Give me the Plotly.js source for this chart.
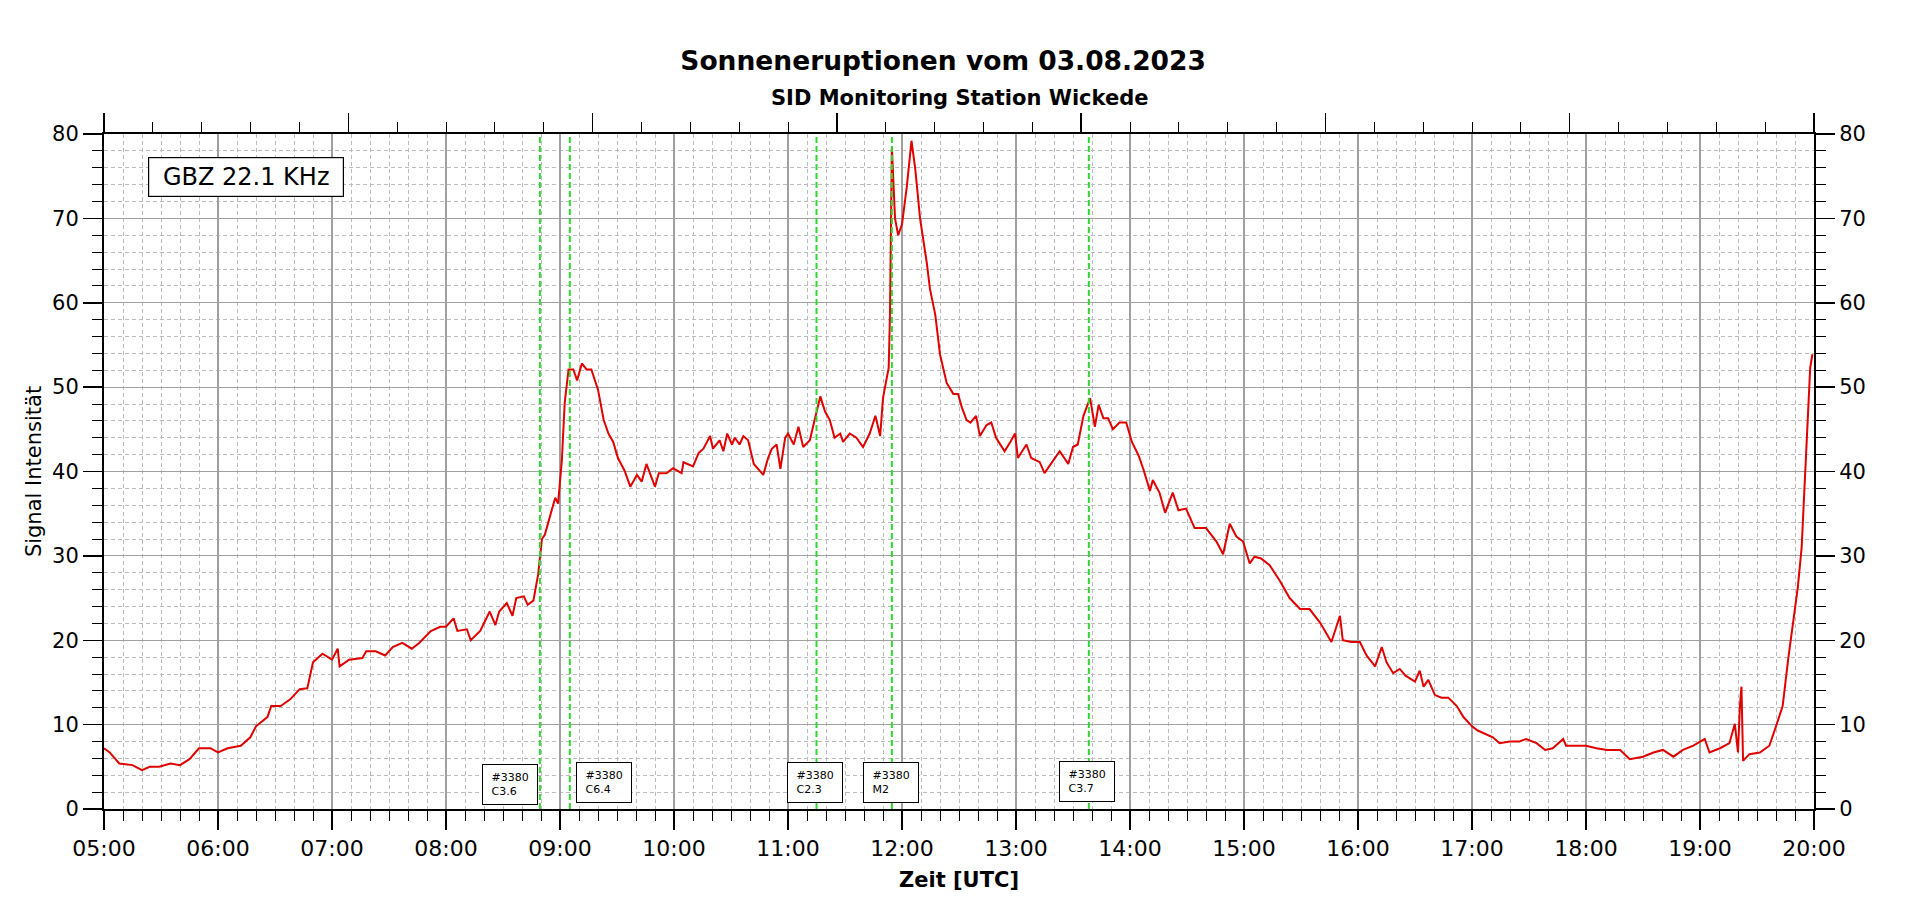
<!DOCTYPE html>
<html>
<head>
<meta charset="utf-8">
<script src="https://cdn.plot.ly/plotly-3.0.1.min.js"></script>
<style>
  html, body { margin: 0; padding: 0; background: #ffffff; }
  #chart { width: 1920px; height: 904px; }
</style>
</head>
<body>
<div id="chart"></div>
<script>
// ---- Data ----
const chartDate = "2023-08-03";

const times = [
  "05:00","05:03","05:08","05:15","05:20","05:24","05:29","05:35","05:40","05:45",
  "05:50","05:56","06:00","06:05","06:12","06:17","06:20","06:26","06:28","06:33",
  "06:38","06:43","06:47","06:50","06:55","07:00","07:03","07:04","07:09","07:16",
  "07:18","07:23","07:28","07:32","07:37","07:42","07:46","07:52","07:57","08:00",
  "08:04","08:06","08:11","08:13","08:18","08:23","08:26","08:28","08:32","08:35",
  "08:37","08:41","08:43","08:46","08:48:30","08:50:30","08:52","08:54","08:55:30","08:57:30",
  "08:59","09:01","09:02:30","09:04:30","09:07","09:09","09:11:30","09:14","09:16:30","09:18:30",
  "09:20","09:23","09:25:30","09:28","09:30:30","09:34","09:37","09:40:30","09:43","09:45:30",
  "09:50","09:52","09:56","09:59:30","10:04","10:05","10:10","10:13","10:15:30","10:19",
  "10:20:30","10:24","10:26","10:28","10:30:30","10:32","10:34:30","10:36:30","10:39","10:42",
  "10:44:30","10:47","10:49:30","10:51:30","10:54","10:56","10:58:30","11:00","11:03","11:05:30",
  "11:08","11:11:30","11:14","11:17","11:19:30","11:22","11:24:30","11:27:30","11:29","11:32:30",
  "11:36","11:39:30","11:43","11:46","11:48:30","11:50","11:53","11:53:40","11:54:40","11:56:20",
  "11:58","12:00","12:02:30","12:05","12:07","12:09:30","12:13","12:14:40","12:17:30","12:20",
  "12:23:30","12:27","12:29:30","12:31:30","12:34","12:36","12:39","12:41","12:44:30","12:47",
  "12:49:30","12:54","12:57","12:59:30","13:01","13:05:30","13:08","13:12:30","13:15","13:18:30",
  "13:23","13:27:30","13:30","13:32:30","13:35:30","13:39","13:41:30","13:43:30","13:46","13:48:30",
  "13:51","13:54:30","13:58","14:01","14:04:30","14:07","14:10:30","14:12","14:15:30","14:18:30",
  "14:22:30","14:25:30","14:29:30","14:34","14:40","14:45:30","14:49","14:52:30","14:56","14:59:30",
  "15:03","15:05:30","15:09","15:13:30","15:19","15:24","15:29:30","15:34:30","15:40","15:46",
  "15:50:30","15:52","15:56:30","16:01","16:04:30","16:09","16:12:30","16:15","16:18:30","16:22",
  "16:25","16:30","16:32:30","16:34:30","16:37","16:40:30","16:44","16:47:30","16:52","16:55:30",
  "17:00","17:03","17:07:30","17:11","17:14:30","17:20","17:25","17:28:30","17:34","17:38:30",
  "17:42:30","17:48","17:49:30","17:55","18:00","18:05:30","18:11","18:18","18:23","18:30",
  "18:35:30","18:40:30","18:46","18:51","18:56:30","19:02:30","19:05","19:10:30","19:15:30","19:18:20",
  "19:20","19:21","19:21:50","19:22:40","19:26","19:31:30","19:36:30","19:40","19:43:30","19:46:30",
  "19:49","19:51:30","19:53:30","19:55","19:57","19:58","19:59:10"
];

const signal = [
  7.2,6.7,5.4,5.2,4.6,5.0,5.0,5.4,5.2,5.9,
  7.2,7.2,6.7,7.2,7.5,8.5,9.8,10.9,12.2,12.2,
  13.0,14.2,14.3,17.4,18.4,17.7,19.0,16.9,17.7,17.9,
  18.7,18.7,18.2,19.2,19.7,19.0,19.7,21.1,21.6,21.6,
  22.6,21.1,21.3,20.0,21.1,23.4,21.8,23.4,24.4,22.9,
  25.0,25.2,24.2,24.7,27.8,32.0,32.5,34.1,35.1,36.9,
  36.2,41.4,48.2,52.1,52.1,50.8,52.8,52.1,52.1,50.8,
  49.7,46.1,44.5,43.5,41.6,40.1,38.2,39.6,38.8,40.9,
  38.2,39.8,39.8,40.4,39.8,41.1,40.6,42.2,42.7,44.2,
  42.7,43.7,42.4,44.5,43.2,44.0,43.2,44.2,43.7,40.9,
  40.3,39.6,41.6,42.7,43.2,40.3,44.0,44.5,43.2,45.3,
  42.9,43.7,46.1,48.9,47.1,46.1,44.0,44.5,43.5,44.5,
  44.0,42.9,44.5,46.6,44.2,48.7,52.3,58.6,78.4,70.0,
  68.0,69.3,73.7,79.2,75.8,70.0,64.8,61.7,58.6,53.9,
  50.5,49.2,49.2,47.6,46.1,45.8,46.6,44.2,45.5,45.8,
  44.0,42.4,43.5,44.5,41.6,43.2,41.6,41.1,39.8,40.9,
  42.4,40.9,42.9,43.2,46.6,48.7,45.3,47.9,46.3,46.3,
  45.0,45.8,45.8,43.5,41.9,40.3,37.7,39.0,37.5,35.1,
  37.5,35.4,35.6,33.3,33.3,31.7,30.2,33.8,32.3,31.7,
  29.1,29.9,29.7,28.9,27.0,25.0,23.7,23.7,22.1,19.8,
  22.9,20.0,19.8,19.8,18.2,16.9,19.2,17.4,16.1,16.6,
  15.8,15.1,16.4,14.5,15.3,13.5,13.2,13.2,12.2,10.9,
  9.8,9.3,8.8,8.5,7.8,8.0,8.0,8.3,7.8,7.0,
  7.2,8.3,7.5,7.5,7.5,7.2,7.0,7.0,5.9,6.2,
  6.7,7.0,6.2,7.0,7.5,8.3,6.7,7.2,7.8,10.1,
  6.7,12.2,14.5,5.7,6.5,6.7,7.5,9.8,12.2,17.9,
  22.1,26.3,31.0,37.7,46.1,52.3,53.9
];

// flare events (start markers) and their label boxes
const flareTimes      = ["08:49:25", "09:05:10", "11:15:00", "11:54:40", "13:38:20"];
const flareLabelTimes = ["08:33:50", "09:23:10", "11:14:20", "11:54:20", "13:37:30"];
const flareRegion     = ["#3380", "#3380", "#3380", "#3380", "#3380"];
const flareClass      = ["C3.6", "C6.4", "C2.3", "M2", "C3.7"];
const flareLabelY     = [2.9, 3.15, 3.15, 3.15, 3.25];

const xRange = ["05:00", "20:00"];
const yRange = [0, 80];

const titleText    = "Sonneneruptionen vom 03.08.2023";
const subtitleText = "SID Monitoring Station Wickede";
const stationText  = "GBZ 22.1 KHz";
const xTitle       = "Zeit [UTC]";
const yTitle       = "Signal Intensität";

// ---- Build ----
const FONT = "DejaVu Sans, Verdana, sans-serif";
const toDate = t => chartDate + " " + (t.length === 5 ? t + ":00" : t);

const traces = [
  {
    type: "scatter", mode: "lines",
    x: times.map(toDate), y: signal,
    line: { color: "rgb(225,0,0)", width: 2 },
    hoverinfo: "x+y", showlegend: false
  },
  { // carrier for top and right mirror axes
    type: "scatter", mode: "lines", x: [], y: [],
    xaxis: "x2", yaxis: "y2", showlegend: false, hoverinfo: "skip"
  }
];

const shapes = flareTimes.map(t => ({
  type: "line", xref: "x", yref: "paper",
  x0: toDate(t), x1: toDate(t), y0: 0, y1: 1,
  line: { color: "#2fd82f", width: 2, dash: "6px,3px" },
  layer: "above"
}));

const annotations = [
  {
    xref: "paper", yref: "paper", x: 0.0258, y: 0.9655,
    xanchor: "left", yanchor: "top", showarrow: false,
    text: stationText, font: { family: FONT, size: 24, color: "#000" },
    bgcolor: "#ffffff", bordercolor: "#000", borderwidth: 1.2, borderpad: 6,
    width: 182, height: 26, align: "center"
  },
  {
    xref: "paper", yref: "paper", x: 0.5, y: 1.0538,
    xanchor: "center", yanchor: "middle", showarrow: false,
    text: "<b>" + subtitleText + "</b>",
    font: { family: FONT, size: 21, color: "#000" }
  }
];
flareLabelTimes.forEach((t, i) => {
  annotations.push({
    xref: "x", yref: "y", x: toDate(t), y: flareLabelY[i],
    xanchor: "center", yanchor: "middle", showarrow: false,
    text: "\u00a0" + flareRegion[i] + "<br>\u00a0" + flareClass[i],
    font: { family: FONT, size: 11, color: "#000" },
    align: "left", width: 44, height: 29,
    bgcolor: "#ffffff", bordercolor: "#000", borderwidth: 1, borderpad: 5
  });
});

const tickCommon = {
  ticks: "outside", ticklen: 19, tickwidth: 1.5, tickcolor: "#000",
  showline: true, linecolor: "#000", linewidth: 2, zeroline: false
};

const layout = {
  width: 1920, height: 904,
  margin: { l: 104, r: 106, t: 134, b: 95, pad: 0 },
  paper_bgcolor: "#ffffff", plot_bgcolor: "#ffffff",
  showlegend: false,
  font: { family: FONT, color: "#000" },
  title: {
    text: "<b>" + titleText + "</b>",
    font: { family: FONT, size: 26.5, color: "#000" },
    xref: "container", x: 0.4912, xanchor: "center",
    yref: "container", y: 0.9333, yanchor: "middle"
  },
  xaxis: Object.assign({}, tickCommon, {
    type: "date",
    range: xRange.map(toDate),
    tick0: toDate(xRange[0]), dtick: 3600000, tickformat: "%H:%M",
    tickfont: { family: FONT, size: 22, color: "#000" },
    showgrid: true, gridcolor: "#a0a0a0", gridwidth: 2,
    minor: {
      dtick: 600000, ticks: "outside", ticklen: 10, tickwidth: 1, tickcolor: "#000",
      showgrid: true, gridcolor: "#bcbcbc", gridwidth: 1, griddash: "4px,3px"
    },
    title: { text: "<b>" + xTitle + "</b>", font: { family: FONT, size: 21, color: "#000" }, standoff: 12 }
  }),
  yaxis: Object.assign({}, tickCommon, {
    range: yRange, dtick: 10, tick0: 0,
    tickfont: { family: FONT, size: 21, color: "#000" },
    showgrid: true, gridcolor: "#a0a0a0", gridwidth: 1.2,
    minor: {
      dtick: 2, ticks: "outside", ticklen: 10, tickwidth: 1, tickcolor: "#000",
      showgrid: true, gridcolor: "#bcbcbc", gridwidth: 1, griddash: "4px,3px"
    },
    title: { text: yTitle, font: { family: FONT, size: 21, color: "#000" }, standoff: 5 }
  }),
  xaxis2: Object.assign({}, tickCommon, {
    overlaying: "x", side: "top", anchor: "y2",
    range: [0, 7], dtick: 1, tick0: 0,
    showticklabels: false, showgrid: false,
    minor: { dtick: 0.2, ticks: "outside", ticklen: 10, tickwidth: 1, tickcolor: "#000", showgrid: false }
  }),
  yaxis2: Object.assign({}, tickCommon, {
    overlaying: "y", side: "right", anchor: "x2",
    range: yRange, dtick: 10, tick0: 0,
    tickfont: { family: FONT, size: 21, color: "#000" },
    showgrid: false,
    minor: { dtick: 2, ticks: "outside", ticklen: 10, tickwidth: 1, tickcolor: "#000", showgrid: false }
  }),
  shapes: shapes,
  annotations: annotations
};

Plotly.newPlot("chart", traces, layout, { staticPlot: true, displayModeBar: false });
</script>
</body>
</html>
